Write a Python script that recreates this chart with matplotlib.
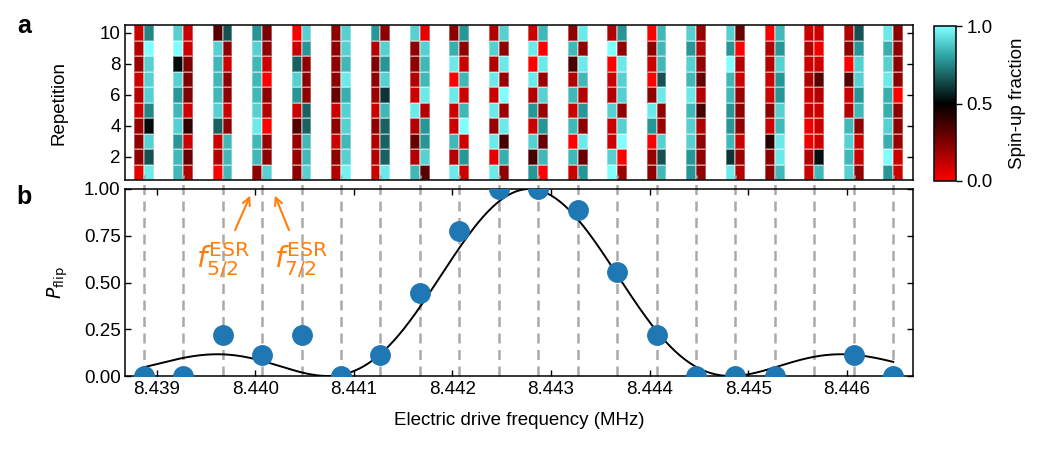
"""Fig: repeated spin readout per drive frequency (a) and flip probability (b)"""
import matplotlib
matplotlib.use('Agg')
import matplotlib.pyplot as plt
from matplotlib.colors import LinearSegmentedColormap
from matplotlib.ticker import FormatStrFormatter
import numpy as np

plt.rcParams.update({
    'font.family': ['Liberation Sans', 'DejaVu Sans'], 'font.size': 13.5,
    'mathtext.fontset': 'dejavusans', 'axes.linewidth': 1.1,
    'xtick.direction': 'in', 'ytick.direction': 'in',
    'xtick.major.size': 4, 'ytick.major.size': 4,
    'xtick.major.width': 1.0, 'ytick.major.width': 1.0,
})

# ---- data ----
freqs = [8.43887, 8.43927, 8.43967, 8.44007, 8.44047, 8.44087, 8.44127,
         8.44167, 8.44207, 8.44247, 8.44287, 8.44327, 8.44367, 8.44407,
         8.44447, 8.44487, 8.44527, 8.44567, 8.44607, 8.44647]

p_flip = [0.0, 0.0, 0.222, 0.111, 0.222, 0.0, 0.111, 0.444, 0.778, 1.0,
          1.0, 0.889, 0.556, 0.222, 0.0, 0.0, 0.0, np.nan, 0.111, 0.0]

# spin-up fraction, one list per frequency, rows listed repetition 10 -> 1
left_col = [
    [0.10, 0.15, 0.20, 0.10, 0.15, 0.10, 0.20, 0.22, 0.22, 0.05],
    [0.90, 1.00, 0.52, 0.90, 0.78, 0.85, 0.90, 0.78, 0.85, 0.85],
    [0.33, 0.90, 0.85, 0.85, 0.85, 0.90, 0.68, 0.10, 0.15, 0.00],
    [0.78, 0.90, 0.85, 0.85, 0.85, 0.90, 0.95, 0.85, 0.85, 0.22],
    [0.00, 0.10, 0.68, 0.90, 0.78, 0.10, 0.33, 0.20, 0.20, 0.22],
    [0.22, 0.22, 0.22, 0.22, 0.30, 0.10, 0.22, 0.10, 0.22, 0.15],
    [0.78, 0.15, 0.25, 0.22, 0.20, 0.10, 0.22, 0.15, 0.15, 0.10],
    [0.90, 0.22, 0.22, 0.15, 0.10, 0.95, 0.15, 0.30, 0.15, 0.85],
    [0.22, 0.83, 0.95, 0.00, 0.95, 0.10, 0.10, 0.85, 0.15, 0.95],
    [0.15, 0.90, 0.15, 0.95, 0.10, 0.95, 0.20, 0.95, 0.05, 0.95],
    [0.10, 0.95, 0.00, 0.95, 0.15, 0.78, 0.10, 0.90, 0.36, 0.78],
    [0.22, 0.85, 0.36, 0.15, 0.85, 0.10, 0.85, 0.00, 0.85, 0.10],
    [0.15, 1.00, 0.00, 0.10, 0.15, 0.90, 0.10, 0.10, 0.90, 1.00],
    [0.00, 0.22, 0.10, 0.00, 0.22, 0.95, 0.78, 0.00, 0.20, 0.22],
    [0.90, 0.78, 0.90, 0.85, 0.95, 0.85, 0.90, 0.90, 0.78, 0.78],
    [0.90, 0.78, 1.00, 0.85, 0.85, 0.78, 0.78, 0.85, 0.60, 0.95],
    [0.00, 0.15, 0.15, 0.10, 0.10, 0.22, 0.10, 0.42, 0.22, 0.22],
    [0.10, 0.15, 0.10, 0.15, 0.10, 0.10, 0.03, 0.03, 0.15, 0.10],
    [0.15, 0.22, 0.00, 0.33, 0.10, 0.15, 0.85, 0.90, 0.85, 0.90],
    [0.95, 0.83, 0.90, 0.95, 0.83, 0.83, 0.90, 0.83, 1.00, 0.78],
]
right_col = [
    [0.75, 1.00, 0.90, 0.90, 0.90, 0.75, 0.52, 0.90, 0.65, 0.95],
    [0.10, 0.10, 0.25, 0.25, 0.25, 0.10, 0.40, 0.10, 0.30, 0.15],
    [0.65, 0.22, 0.10, 0.22, 0.22, 0.10, 0.22, 0.85, 0.85, 0.85],
    [0.25, 0.22, 0.10, 0.00, 0.22, 0.15, 0.00, 0.20, 0.22, 0.90],
    [0.90, 0.78, 0.22, 0.22, 0.22, 0.68, 0.68, 0.85, 0.85, 0.90],
    [0.90, 0.90, 0.85, 0.95, 0.83, 0.90, 0.90, 0.85, 0.90, 0.97],
    [0.22, 0.90, 0.78, 0.90, 0.60, 0.85, 0.68, 0.68, 0.68, 0.95],
    [0.05, 0.90, 0.85, 0.85, 0.95, 0.15, 0.78, 0.78, 0.90, 0.33],
    [0.78, 0.22, 0.10, 0.85, 0.10, 0.85, 1.00, 0.10, 0.78, 0.10],
    [0.90, 0.22, 0.95, 0.20, 1.00, 0.20, 0.95, 0.36, 0.83, 0.22],
    [0.85, 0.00, 0.95, 0.20, 0.90, 0.20, 0.78, 0.30, 0.85, 0.00],
    [0.95, 0.22, 0.95, 0.85, 0.15, 0.78, 0.22, 0.95, 0.30, 0.78],
    [0.78, 0.22, 0.95, 0.90, 0.90, 0.22, 0.90, 1.00, 0.00, 0.20],
    [0.85, 0.85, 0.85, 0.65, 0.95, 0.22, 0.20, 0.90, 0.65, 0.85],
    [0.20, 0.15, 0.22, 0.30, 0.15, 0.36, 0.15, 0.22, 0.22, 0.22],
    [0.30, 0.00, 0.15, 0.10, 0.20, 0.22, 0.22, 0.10, 0.20, 0.15],
    [0.85, 0.78, 0.90, 0.78, 0.78, 0.90, 0.85, 0.95, 0.95, 0.85],
    [0.10, 0.03, 0.10, 0.33, 0.15, 0.10, 0.10, 0.10, 0.53, 0.85],
    [0.65, 0.78, 0.90, 0.90, 0.78, 0.85, 0.22, 0.10, 0.10, 0.22],
    [0.22, 0.22, 0.22, 0.22, 0.00, 0.22, 0.22, 0.20, 0.10, 0.10],
]

# Rabi fit parameters (MHz)
fit_center = 8.44278
fit_rabi = 0.00118

esr_freqs = [8.43995, 8.44020]
esr_labels = [r'$f^{\mathrm{ESR}}_{5/2}$', r'$f^{\mathrm{ESR}}_{7/2}$']

# ---- figure ----
fig = plt.figure(figsize=(10.5, 4.5), dpi=100)
ax_a = fig.add_axes([0.1195, 0.600, 0.750, 0.344])
ax_b = fig.add_axes([0.1195, 0.1644, 0.750, 0.4156])
cax = fig.add_axes([0.8895, 0.598, 0.021, 0.344])

cmap = LinearSegmentedColormap.from_list(
    'spin', [(0.0, '#ff0000'), (0.5, '#000000'), (0.8, '#2aa0a0'), (1.0, '#80ffff')])

xlim = (8.438685, 8.44667)
half = 0.0001
y_edges = np.arange(0.5, 11.0, 1.0)
for f, l, r in zip(freqs, left_col, right_col):
    vals = np.array([l, r]).T[::-1]
    mesh = ax_a.pcolormesh([f - half, f, f + half], y_edges, vals, cmap=cmap,
                           vmin=0, vmax=1, edgecolors=(1, 1, 1, 0.35), linewidth=0.3)
ax_a.set_xlim(xlim)
ax_a.set_ylim(0.5, 10.5)
ax_a.set_xticks([])
ax_a.set_yticks([2, 4, 6, 8, 10])
ax_a.tick_params(axis='y', right=True)
ax_a.set_ylabel('Repetition')
ax_a.yaxis.set_label_coords(-0.073, 0.5)

cb = fig.colorbar(mesh, cax=cax, ticks=[0, 0.5, 1.0])
cb.ax.set_yticklabels(['0.0', '0.5', '1.0'])
cb.ax.tick_params(direction='out', length=4)
cb.set_label('Spin-up fraction', labelpad=12)
cb.outline.set_linewidth(1.1)

# panel b
for f in freqs:
    ax_b.plot([f, f], [0, 1.075], transform=ax_b.get_xaxis_transform(),
              clip_on=False, ls=(0, (4, 2.6)), color='#aaaaaa', lw=1.8, zorder=0)

x_fit = np.linspace(freqs[0], freqs[-1], 500)
u = (x_fit - fit_center) / fit_rabi
y_fit = np.sin(np.pi / 2 * np.sqrt(1 + u**2))**2 / (1 + u**2)
ax_b.plot(x_fit, y_fit, color='black', lw=1.4, zorder=2)
ax_b.plot(freqs, p_flip, 'o', ms=14, color='#1f77b4', zorder=3)

for f, tx, lab in zip(esr_freqs, [8.43967, 8.44046], esr_labels):
    ax_b.annotate('', xy=(f, 0.965), xytext=(f + (tx - f) * 0.55, 0.78),
                  arrowprops=dict(arrowstyle='->', color='#ff7f0e', lw=1.5,
                                  shrinkA=0, shrinkB=0))
    ax_b.text(tx, 0.62, lab, color='#ff7f0e', fontsize=21, ha='center', va='center')

ax_b.set_xlim(xlim)
ax_b.set_ylim(0, 1.0)
ax_b.set_xticks([8.439, 8.440, 8.441, 8.442, 8.443, 8.444, 8.445, 8.446])
ax_b.xaxis.set_major_formatter(FormatStrFormatter('%.3f'))
ax_b.set_yticks([0, 0.25, 0.5, 0.75, 1.0])
ax_b.yaxis.set_major_formatter(FormatStrFormatter('%.2f'))
ax_b.tick_params(top=True, right=True)
ax_b.set_ylabel(r'$P_{\mathrm{flip}}$')
ax_b.yaxis.set_label_coords(-0.071, 0.5)
ax_b.set_xlabel('Electric drive frequency (MHz)')
ax_b.xaxis.set_label_coords(0.5, -0.19)

fig.text(0.016, 0.943, 'a', fontsize=18, fontweight='bold', va='center')
fig.text(0.016, 0.563, 'b', fontsize=18, fontweight='bold', va='center')

fig.savefig('out.png', dpi=100, facecolor='white')
plt.close()
